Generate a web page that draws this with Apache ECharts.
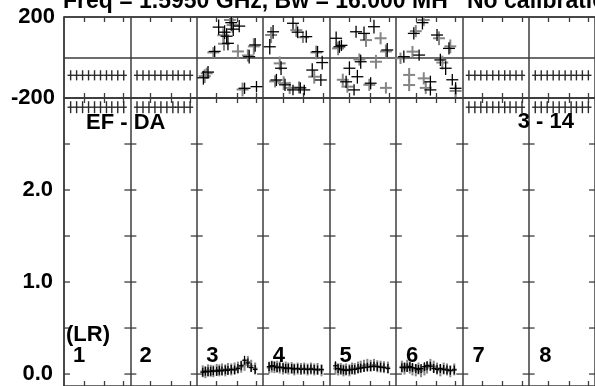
<!DOCTYPE html>
<html>
<head>
<meta charset="utf-8">
<script src="https://cdn.jsdelivr.net/npm/echarts@6/dist/echarts.min.js"></script>
<style>html,body{margin:0;padding:0;background:#fff}#c{width:595px;height:386px}</style>
</head>
<body>
<div id="c"></div>
<script>
// ---------------- data ----------------
const titleText = 'Freq = 1.5950 GHz, Bw = 16.000 MH';
const titleText2 = 'No calibration';
const baselineLeft = 'EF - DA';
const baselineRight = '3 - 14';
const stokesLabel = '(LR)';
const columnLabels = ['1', '2', '3', '4', '5', '6', '7', '8'];
const phaseTicks = [-200, 0, 200];
const phaseLabels = ['-200', '200'];
const ampLabelValues = [0, 1, 2];
const ampTickValues = [0, 0.5, 1, 1.5, 2, 2.5, 3];
const timeTicks = [0.3, 0.61, 0.9];          // time tick positions inside each column
const flatColumns = [0, 1, 6, 7];            // columns with constant values
const flatTimes = [0.10, 0.19, 0.28, 0.37, 0.46, 0.55, 0.64, 0.72, 0.81, 0.90];
const flatPhase = [-88, -88, -88, -88, -88, -88, -88, -88, -88, -88];
const flatAmp = [2.9, 2.9, 2.9, 2.9, 2.9, 2.9, 2.9, 2.9, 2.9, 2.9];

// phase points: [time fraction in column, phase deg, error deg]
const phaseBlack3 = [[0.10,-100,34],[0.17,-72,30],[0.27,30,28],[0.33,150,38],[0.45,105,40],[0.47,70,34],[0.52,172,40],[0.55,140,34],[0.64,155,30],[0.79,4,34],[0.88,62,34],[0.72,-152,28],[0.90,-144,28],[0.42,125,34]];
const phaseGray3  = [[0.12,-92,34],[0.15,-78,28],[0.25,25,26],[0.40,110,34],[0.41,68,34],[0.54,160,38],[0.62,30,34],[0.77,10,30],[0.86,55,40],[0.69,-158,34],[0.50,185,30]];
const phaseBlack4 = [[0.10,53,38],[0.15,127,34],[0.45,169,30],[0.52,125,28],[0.65,103,30],[0.82,29,28],[0.89,-25,34],[0.27,-53,34],[0.20,-111,30],[0.33,-135,30],[0.45,-160,26],[0.62,-160,26],[0.74,-62,34],[0.87,-111,30],[0.56,-150,28]];
const phaseGray4  = [[0.12,111,40],[0.50,135,34],[0.80,25,34],[0.25,-29,34],[0.18,-118,30],[0.31,-127,34],[0.54,-148,30],[0.77,-95,34],[0.60,100,28],[0.40,-150,30]];
const phaseBlack5 = [[0.10,95,34],[0.15,53,30],[0.40,127,30],[0.52,119,34],[0.67,152,34],[0.87,37,34],[0.47,-21,34],[0.30,-53,34],[0.42,-95,34],[0.25,-120,30],[0.37,-160,28],[0.62,-127,30],[0.18,60,28]];
const phaseGray5  = [[0.13,45,34],[0.55,86,34],[0.77,95,30],[0.85,30,34],[0.45,-10,30],[0.70,-21,34],[0.27,-144,30],[0.60,-135,30],[0.20,-110,30],[0.85,-150,28]];
const phaseBlack6 = [[0.40,172,34],[0.27,119,30],[0.62,111,30],[0.80,45,30],[0.12,4,30],[0.35,12,28],[0.67,-12,30],[0.75,-53,34],[0.52,-120,30],[0.52,-160,28],[0.90,-152,30],[0.85,-110,28]];
const phaseGray6  = [[0.42,185,30],[0.30,130,30],[0.65,95,34],[0.82,55,34],[0.07,-4,28],[0.25,29,28],[0.70,-25,34],[0.20,-86,34],[0.42,-103,30],[0.45,-150,30],[0.20,-136,30],[0.90,-165,30]];

// amplitude points
const ampTimes = [0.09,0.13,0.17,0.21,0.25,0.30,0.34,0.38,0.43,0.47,0.52,0.57,0.62,0.67,0.72,0.77,0.82,0.88];
const ampBlack3 = [0.02,0.03,0.025,0.03,0.035,0.03,0.04,0.035,0.045,0.04,0.05,0.045,0.06,0.09,0.15,0.12,0.07,0.05];
const ampGray3  = [0.03,0.02,0.04,0.035,0.03,0.045,0.04,0.05,0.04,0.055,0.05,0.06,0.07,0.08,0.10,0.13,0.09,0.06];
const ampBlack4 = [0.08,0.09,0.085,0.07,0.075,0.07,0.06,0.065,0.06,0.055,0.06,0.05,0.055,0.05,0.055,0.05,0.045,0.05];
const ampGray4  = [0.07,0.08,0.075,0.08,0.07,0.06,0.07,0.06,0.065,0.05,0.06,0.055,0.06,0.05,0.06,0.05,0.055,0.04];
const ampBlack5 = [0.09,0.06,0.05,0.045,0.04,0.045,0.05,0.05,0.06,0.065,0.07,0.075,0.08,0.085,0.08,0.075,0.07,0.06];
const ampGray5  = [0.06,0.05,0.055,0.04,0.05,0.04,0.06,0.055,0.07,0.08,0.09,0.10,0.09,0.10,0.085,0.08,0.075,0.07];
const ampBlack6 = [0.07,0.075,0.07,0.08,0.07,0.06,0.05,0.06,0.08,0.09,0.085,0.06,0.05,0.06,0.05,0.045,0.04,0.045];
const ampGray6  = [0.08,0.06,0.09,0.07,0.05,0.04,0.06,0.03,0.05,0.07,0.10,0.08,0.06,0.04,0.06,0.05,0.03,0.05];

// ---------------- build ----------------
const FONT = '"Liberation Sans", Arial, sans-serif';
const FRAME = '#3c3c3c';
const nCols = columnLabels.length;
const minorTicks = [];
for (let c = 0; c < nCols; c++) timeTicks.forEach(t => minorTicks.push(c + t));

function phasePts(col, arr, hw) { return arr.map(p => [col + p[0], p[1], hw, p[2]]); }
function ampPts(col, vals, hw, err) { return vals.map((v, i) => [col + ampTimes[i], v, hw, err]); }

const PHW = 0.09;
const phaseGray = [].concat(phasePts(2, phaseGray3, PHW), phasePts(3, phaseGray4, PHW), phasePts(4, phaseGray5, PHW), phasePts(5, phaseGray6, PHW));
const phaseBlack = [].concat(phasePts(2, phaseBlack3, PHW), phasePts(3, phaseBlack4, PHW), phasePts(4, phaseBlack5, PHW), phasePts(5, phaseBlack6, PHW));
const ampGray = [].concat(ampPts(2, ampGray3, 0.035, 0.065), ampPts(3, ampGray4, 0.035, 0.065), ampPts(4, ampGray5, 0.035, 0.065), ampPts(5, ampGray6, 0.035, 0.065));
const ampBlack = [].concat(ampPts(2, ampBlack3, 0.035, 0.048), ampPts(3, ampBlack4, 0.035, 0.048), ampPts(4, ampBlack5, 0.035, 0.048), ampPts(5, ampBlack6, 0.035, 0.048));
const flatPhasePts = [], flatAmpPts = [];
flatColumns.forEach(c => flatTimes.forEach((t, i) => {
  flatPhasePts.push([c + t, flatPhase[i], 0.047, 25]);
  flatAmpPts.push([c + t, flatAmp[i], 0.047, 0.065]);
}));
const crossTickPts = [];
for (let b = 0; b <= nCols; b++) ampTickValues.forEach(v => crossTickPts.push([b, v]));

function crossSeries(data, xi, yi, color, lw) {
  return {
    type: 'custom', coordinateSystem: 'cartesian2d', xAxisIndex: xi, yAxisIndex: yi,
    clip: true, silent: true, animation: false, data: data,
    encode: { x: 0, y: 1 },
    renderItem: function (params, api) {
      const x = api.value(0), y = api.value(1), hw = api.value(2), hh = api.value(3);
      const l = api.coord([x - hw, y]), r = api.coord([x + hw, y]);
      const t = api.coord([x, y + hh]), b = api.coord([x, y - hh]);
      const st = { stroke: color, lineWidth: lw };
      return { type: 'group', children: [
        { type: 'line', shape: { x1: l[0], y1: l[1], x2: r[0], y2: r[1] }, style: st },
        { type: 'line', shape: { x1: t[0], y1: t[1], x2: b[0], y2: b[1] }, style: st }
      ] };
    }
  };
}

const tickAxis = (gi, pos) => ({
  gridIndex: gi, type: 'value', min: 0, max: nCols, position: pos,
  axisLine: { show: true, onZero: false, lineStyle: { color: FRAME, width: 1.5 } },
  axisTick: { show: true, inside: true, length: 5, customValues: minorTicks, lineStyle: { color: FRAME, width: 1.3 } },
  axisLabel: { show: false }, splitLine: { show: false }
});
const colAxis = (gi) => ({
  gridIndex: gi, type: 'value', min: 0, max: nCols, interval: 1, position: 'bottom',
  axisLine: { show: false }, axisTick: { show: false }, axisLabel: { show: false },
  splitLine: { show: true, lineStyle: { color: FRAME, width: 1.5 } }
});

const labelStyle = { fontFamily: FONT, fontWeight: 'bold', fontSize: 22, color: '#000' };
function txt(text, x, y, align) {
  return { type: 'text', silent: true, z: 100, style: { text: text, x: x, y: y, align: align || 'left', verticalAlign: 'middle', font: 'bold 22px ' + FONT, fill: '#000' } };
}

const graphics = [
  { type: 'text', silent: true, style: { text: titleText, x: 63, y: 2, verticalAlign: 'middle', font: 'bold 23px ' + FONT, fill: '#000' } },
  { type: 'text', silent: true, style: { text: titleText2, x: 467, y: 2, verticalAlign: 'middle', font: 'bold 23px ' + FONT, fill: '#000' } },
  txt(baselineLeft, 86, 123),
  txt(baselineRight, 574, 122, 'right'),
  txt(stokesLabel, 66, 335)
];
columnLabels.forEach((lab, i) => graphics.push(txt(lab, 64 + i * 66.6 + 9, 356)));

const option = {
  backgroundColor: '#fff',
  animation: false,
  grid: [
    { left: 64, top: 17, width: 533, height: 81, containLabel: false },
    { left: 64, top: 98, width: 533, height: 289, containLabel: false }
  ],
  xAxis: [
    tickAxis(0, 'bottom'), tickAxis(0, 'top'), colAxis(0),
    tickAxis(1, 'bottom'), tickAxis(1, 'top'), colAxis(1)
  ],
  yAxis: [
    { gridIndex: 0, type: 'value', min: phaseTicks[0], max: phaseTicks[2], interval: 200,
      axisLine: { show: true, lineStyle: { color: FRAME, width: 1.5 } }, axisTick: { show: false },
      axisLabel: Object.assign({ margin: 9, formatter: v => (phaseLabels.indexOf(String(v)) >= 0 ? String(v) : '') }, labelStyle),
      splitLine: { show: true, lineStyle: { color: FRAME, width: 1.5 } } },
    { gridIndex: 1, type: 'value', min: -0.13, max: 3.0,
      axisLine: { show: true, lineStyle: { color: FRAME, width: 1.5 } }, axisTick: { show: false },
      axisLabel: Object.assign({ margin: 11, customValues: ampLabelValues, formatter: v => v.toFixed(1) }, labelStyle),
      splitLine: { show: false } }
  ],
  graphic: graphics,
  series: [
    crossSeries(crossTickPts.map(p => [p[0], p[1], 0.09, 0]), 3, 1, FRAME, 1.3),
    crossSeries(flatPhasePts, 0, 0, '#2a2a2a', 1.4),
    crossSeries(flatAmpPts, 3, 1, '#2a2a2a', 1.4),
    crossSeries(phaseGray, 0, 0, '#858585', 2),
    crossSeries(phaseBlack, 0, 0, '#000', 1.3),
    crossSeries(ampGray, 3, 1, '#858585', 2),
    crossSeries(ampBlack, 3, 1, '#000', 1.3)
  ]
};
const chart = echarts.init(document.getElementById('c'), null, { renderer: 'canvas' });
chart.setOption(option);
</script>
</body>
</html>
